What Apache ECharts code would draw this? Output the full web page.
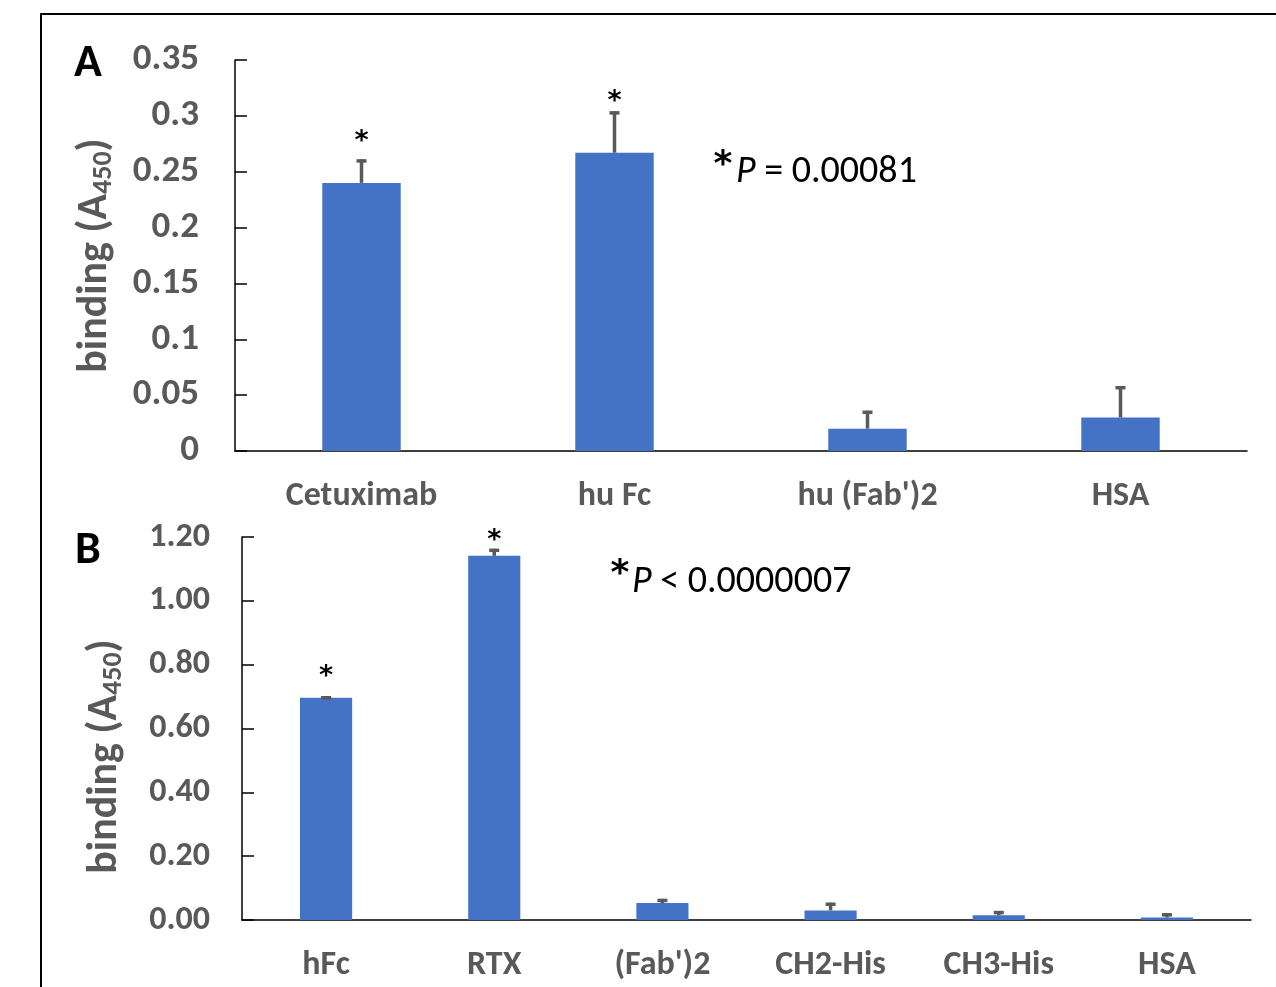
<!DOCTYPE html>
<html>
<head>
<meta charset="utf-8">
<script src="https://cdn.jsdelivr.net/npm/echarts@6/dist/echarts.min.js"></script>
<style>
html,body{margin:0;padding:0;background:#fff;}
#c{width:1276px;height:987px;}
</style>
</head>
<body>
<div id="c"></div>
<script>
// ---- Panel A data ----
const catsA = ['Cetuximab', 'hu Fc', "hu (Fab')2", 'HSA'];
const valsA = [0.240, 0.267, 0.020, 0.030];
const errA  = [0.021, 0.037, 0.016, 0.028];
const starA = [0.283, 0.319, null, null];   // heights of the significance asterisks
const ticksA = ['0', '0.05', '0.1', '0.15', '0.2', '0.25', '0.3', '0.35'];

// ---- Panel B data ----
const catsB = ['hFc', 'RTX', "(Fab')2", 'CH2-His', 'CH3-His', 'HSA'];
const valsB = [0.696, 1.141, 0.053, 0.030, 0.015, 0.008];
const errB  = [0.005, 0.022, 0.013, 0.024, 0.013, 0.013];
const starB = [0.784, 1.211, null, null, null, null];
const ticksB = ['0.00', '0.20', '0.40', '0.60', '0.80', '1.00', '1.20'];

const FONT = 'Carlito, Lato, sans-serif';
const STARFONT = '"DejaVu Sans", sans-serif';
const GREY = '#595959';
const BLUE = '#4472C4';

function errData(cats, vals, errs, stars) {
  return cats.map((c, i) => [i, vals[i], errs[i], stars[i] == null ? -1 : stars[i]]);
}

function errRender(params, api) {
  const x = api.value(0), v = api.value(1), e = api.value(2), s = api.value(3);
  const p0 = api.coord([x, v]);
  const p1 = api.coord([x, v + e]);
  const children = [
    {type: 'line', shape: {x1: p0[0], y1: p0[1], x2: p1[0], y2: p1[1]},
     style: {stroke: GREY, lineWidth: 3.5}},
    {type: 'line', shape: {x1: p1[0] - 5, y1: p1[1] + 1.5, x2: p1[0] + 5, y2: p1[1] + 1.5},
     style: {stroke: GREY, lineWidth: 3.5}}
  ];
  if (s >= 0) {
    const ps = api.coord([x, s]);
    children.push({type: 'text', x: ps[0], y: ps[1] + 7,
      style: {text: '*', fill: '#000', font: 'bold 27px ' + STARFONT, align: 'center', verticalAlign: 'middle'}});
  }
  return {type: 'group', children: children};
}

const yName = 'binding (A{s|450})';
const yNameStyle = {
  color: GREY, fontFamily: FONT, fontWeight: 'bold', fontSize: 42,
  rich: {s: {fontSize: 28, fontWeight: 'bold', color: GREY, fontFamily: FONT, verticalAlign: 'bottom', padding: [17, 0, 0, 0]}}
};

const chart = echarts.init(document.getElementById('c'), null, {renderer: 'canvas'});
chart.setOption({
  backgroundColor: '#fff',
  animation: false,
  grid: [
    {left: 235, right: 29, top: 60, height: 391, containLabel: false},
    {left: 242, right: 25, top: 537, height: 383, containLabel: false}
  ],
  xAxis: [
    {type: 'category', gridIndex: 0, data: catsA,
     axisLine: {lineStyle: {color: '#000', width: 1.5}}, axisTick: {show: false},
     axisLabel: {color: GREY, fontFamily: FONT, fontWeight: 'bold', fontSize: 34, margin: 28}},
    {type: 'category', gridIndex: 1, data: catsB,
     axisLine: {lineStyle: {color: '#000', width: 1.5}}, axisTick: {show: false},
     axisLabel: {color: GREY, fontFamily: FONT, fontWeight: 'bold', fontSize: 34, margin: 28}}
  ],
  yAxis: [
    {type: 'value', gridIndex: 0, min: 0, max: 0.35, interval: 0.05,
     splitLine: {show: false},
     axisLine: {show: true, lineStyle: {color: '#000', width: 1.5}},
     axisTick: {show: true, inside: true, length: 12, lineStyle: {color: '#000', width: 1.5}},
     axisLabel: {color: GREY, fontFamily: FONT, fontWeight: 'bold', fontSize: 37, margin: 36,
                 formatter: (v, i) => ticksA[i]},
     name: yName, nameLocation: 'middle', nameGap: 117, nameRotate: 90,
     nameTextStyle: yNameStyle},
    {type: 'value', gridIndex: 1, min: 0, max: 1.2, interval: 0.2,
     splitLine: {show: false},
     axisLine: {show: true, lineStyle: {color: '#000', width: 1.5}},
     axisTick: {show: true, inside: true, length: 12, lineStyle: {color: '#000', width: 1.5}},
     axisLabel: {color: GREY, fontFamily: FONT, fontWeight: 'bold', fontSize: 34, margin: 32,
                 formatter: (v, i) => ticksB[i]},
     name: yName, nameLocation: 'middle', nameGap: 114, nameRotate: 90,
     nameTextStyle: Object.assign({}, yNameStyle, {padding: [0, 56, 0, 0]})}
  ],
  series: [
    {type: 'bar', xAxisIndex: 0, yAxisIndex: 0, data: valsA, barWidth: '31%',
     itemStyle: {color: BLUE}},
    {type: 'custom', xAxisIndex: 0, yAxisIndex: 0, data: errData(catsA, valsA, errA, starA),
     renderItem: errRender, clip: false, z: 3},
    {type: 'bar', xAxisIndex: 1, yAxisIndex: 1, data: valsB, barWidth: '31%',
     itemStyle: {color: BLUE}},
    {type: 'custom', xAxisIndex: 1, yAxisIndex: 1, data: errData(catsB, valsB, errB, starB),
     renderItem: errRender, clip: false, z: 3}
  ],
  graphic: [
    {type: 'polyline', shape: {points: [[1290, 14], [41, 14], [41, 1000]]},
     style: {stroke: '#000', lineWidth: 2, fill: null}},
    {type: 'text', x: 88, y: 64, style: {text: 'A', fill: '#000', font: 'bold 46px ' + FONT, align: 'center', verticalAlign: 'middle'}},
    {type: 'text', x: 88, y: 551, style: {text: 'B', fill: '#000', font: 'bold 46px ' + FONT, align: 'center', verticalAlign: 'middle'}},
    {type: 'text', x: 723, y: 166, style: {text: '*', fill: '#000', font: 'bold 36px ' + STARFONT, align: 'center', verticalAlign: 'middle'}},
    {type: 'text', x: 736, y: 172, style: {text: '{i|P} = 0.00081', fill: '#000', font: '38px ' + FONT,
      align: 'left', verticalAlign: 'middle',
      rich: {i: {fontStyle: 'italic', fontSize: 38, fontFamily: FONT, fill: '#000'}}}},
    {type: 'text', x: 620, y: 575, style: {text: '*', fill: '#000', font: 'bold 36px ' + STARFONT, align: 'center', verticalAlign: 'middle'}},
    {type: 'text', x: 632, y: 582, style: {text: '{i|P} < 0.0000007', fill: '#000', font: '38px ' + FONT,
      align: 'left', verticalAlign: 'middle',
      rich: {i: {fontStyle: 'italic', fontSize: 38, fontFamily: FONT, fill: '#000'}}}}
  ]
});
</script>
</body>
</html>
